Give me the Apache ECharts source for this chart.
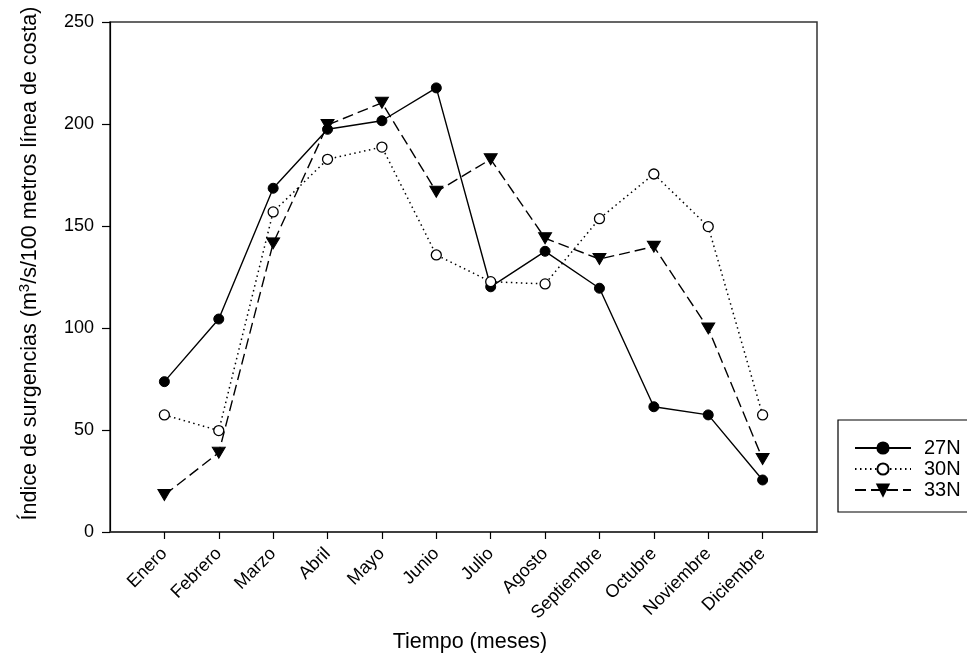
<!DOCTYPE html>
<html>
<head>
<meta charset="utf-8">
<script src="https://cdn.jsdelivr.net/npm/echarts@6/dist/echarts.min.js"></script>
<style>html,body{margin:0;padding:0;background:#fff}#c{width:967px;height:654px}</style>
</head>
<body>
<div id="c"></div>
<script>
const months = ["Enero","Febrero","Marzo","Abril","Mayo","Junio","Julio","Agosto","Septiembre","Octubre","Noviembre","Diciembre"];
const monthPos = [1,2,3,4,5,6,7,8,9,10,11,12];
const s27N = [73.7,104.4,168.5,197.4,201.6,217.7,120.2,137.6,119.5,61.4,57.4,25.5];
const s30N = [57.4,49.7,156.9,182.7,188.7,135.8,122.7,121.6,153.6,175.5,149.7,57.4];
const s33N = [18.1,38.9,141.5,199.5,210.4,166.8,182.7,144.0,133.8,139.9,99.8,35.8];
const yTicks = [0,50,100,150,200,250];

const FONT = 'Liberation Sans, Arial, sans-serif';
const pair = arr => arr.map((v,i)=>[monthPos[i], v]);

const chart = echarts.init(document.getElementById('c'), null, {renderer:'canvas'});
chart.setOption({
  animation:false,
  backgroundColor:'#fff',
  textStyle:{fontFamily:FONT, color:'#000'},
  grid:{left:110, top:22, right:150, bottom:122, show:true, borderColor:'#333', borderWidth:1.5,
    containLabel:false, outerBoundsMode:'none'},
  xAxis:{
    type:'value', min:0, max:13, interval:1,
    name:'Tiempo (meses)', nameLocation:'middle', nameGap:99,
    nameTextStyle:{fontSize:21.5, fontFamily:FONT, color:'#000', padding:[0,0,0,13]},
    axisLine:{show:true, lineStyle:{color:'#333', width:1.5}},
    axisTick:{show:true, inside:false, length:7, customValues:monthPos, lineStyle:{color:'#000', width:1.2}},
    axisLabel:{rotate:45, fontSize:18, color:'#000', fontFamily:FONT, margin:19, customValues:monthPos,
      formatter:v=>months[Math.round(v)-1]||''},
    splitLine:{show:false}
  },
  yAxis:{
    type:'value', min:yTicks[0], max:yTicks[yTicks.length-1], interval:50,
    name:'{a|Índice de surgencias (m}{s|3}{a|/s/100 metros línea de costa)}',
    nameLocation:'middle', nameGap:66, nameRotate:90,
    nameTextStyle:{fontFamily:FONT, color:'#000', padding:[0,0,0,27], rich:{
      a:{fontSize:21.5, fontFamily:FONT, color:'#000'},
      s:{fontSize:15, fontFamily:FONT, color:'#000', verticalAlign:'top', padding:[0,0,12,0]}
    }},
    axisLine:{show:true, lineStyle:{color:'#000', width:1.2}},
    axisTick:{show:true, inside:false, length:8, lineStyle:{color:'#000', width:1.2}},
    axisLabel:{fontSize:18, color:'#000', fontFamily:FONT, margin:16},
    splitLine:{show:false}
  },
  legend:{
    orient:'vertical', left:838, top:420,
    padding:[18,50,12,16], itemGap:1, itemWidth:56, itemHeight:14,
    borderColor:'#000', borderWidth:1.2, borderRadius:0,
    textStyle:{fontSize:20, fontFamily:FONT, color:'#000', padding:[0,0,0,8]},
    data:['27N','30N','33N']
  },
  series:[
    {name:'27N', type:'line', data:pair(s27N), symbol:'circle', symbolSize:10,
      lineStyle:{color:'#000', width:1.4, type:'solid'}, itemStyle:{color:'#000', borderColor:'#000', borderWidth:1}},
    {name:'30N', type:'line', data:pair(s30N), symbol:'circle', symbolSize:10,
      lineStyle:{color:'#000', width:1.5, type:[1.5,3.5]}, itemStyle:{color:'#fff', borderColor:'#000', borderWidth:1.3}},
    {name:'33N', type:'line', data:pair(s33N), symbol:'triangle', symbolRotate:180, symbolSize:[13,11],
      lineStyle:{color:'#000', width:1.4, type:[11,5]}, itemStyle:{color:'#000', borderColor:'#000', borderWidth:1}}
  ]
});
</script>
</body>
</html>
